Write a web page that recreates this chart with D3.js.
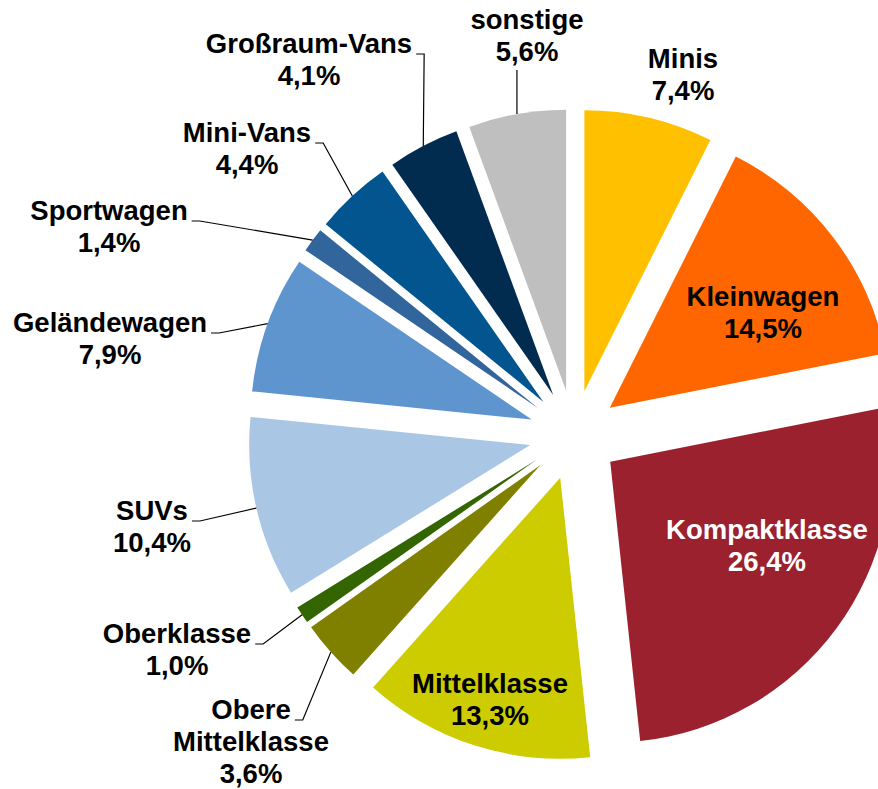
<!DOCTYPE html>
<html>
<head>
<meta charset="utf-8">
<script src="https://cdn.jsdelivr.net/npm/d3@7"></script>
<style>
  body { margin: 0; background: #fff; }
</style>
</head>
<body>
<script>
let w = 878;
let h = 789;

// data
let categories = ["Minis", "Kleinwagen", "Kompaktklasse", "Mittelklasse", "Obere Mittelklasse",
    "Oberklasse", "SUVs", "Geländewagen", "Sportwagen", "Mini-Vans", "Großraum-Vans", "sonstige"];
let shares = [7.4, 14.5, 26.4, 13.3, 3.6, 1.0, 10.4, 7.9, 1.4, 4.4, 4.1, 5.6];

// styles / layout
let colors = ["#FFC000", "#FF6600", "#9A212D", "#CCCC00", "#808000", "#336600",
    "#A9C6E5", "#5E95CF", "#31659C", "#02558F", "#012C4F", "#BFBFBF"];
let textColors = ["#000", "#000", "#fff", "#000", "#000", "#000", "#000", "#000", "#000", "#000", "#000", "#000"];
let labelX = [683, 763, 767, 490, 251, 177, 152, 110, 109, 247, 309, 527];
let labelY = [68, 306, 539, 693, 719, 643, 520, 332, 220, 142, 53, 29];
let leaderType = ["none", "none", "none", "none", "side", "side", "side", "side", "side", "side", "side", "below"];

let cx = 574, cy = 435;
let radius = 281;
let explode = 45;
let lineH = 32;

let de = d3.formatLocale({decimal: ",", thousands: ".", grouping: [3], currency: ["", "€"]});
let pct = de.format(".1f");

let dataset = categories.map((c, i) => ({key: c, value: shares[i], i: i}));

let pie = d3.pie()
    .sort(null)
    .value(d => d.value);

let arc = d3.arc()
    .innerRadius(0)
    .outerRadius(radius);

let arcs = pie(dataset);

// offset of each exploded slice along its mid angle
let off = function (d) {
    let a = (d.startAngle + d.endAngle) / 2;
    return [explode * Math.sin(a), -explode * Math.cos(a)];
}

let svg = d3.select("body")
    .append("svg")
    .attr("width", w)
    .attr("height", h)

let g = svg.append("g")
    .attr("transform", `translate(${cx},${cy})`)

g.selectAll("path")
    .data(arcs)
    .enter()
    .append("path")
    .attr("d", arc)
    .attr("transform", d => `translate(${off(d)[0]},${off(d)[1]})`)
    .attr("fill", d => colors[d.data.i])

// label lines
let lines = function (d) {
    let name = d.data.key;
    let parts = name === "Obere Mittelklasse" ? name.split(" ") : [name];
    return parts.concat([pct(d.data.value) + "%"]);
}

let labels = svg.selectAll("text.lbl")
    .data(arcs)
    .enter()
    .append("text")
    .attr("class", "lbl")
    .attr("x", d => labelX[d.data.i])
    .attr("y", d => labelY[d.data.i])
    .attr("fill", d => textColors[d.data.i])
    .attr("font-family", "'Liberation Sans', Arial, sans-serif")
    .attr("font-weight", "bold")
    .attr("font-size", "27.5px")
    .attr("text-anchor", "middle")

labels.each(function (d) {
    let t = d3.select(this);
    lines(d).forEach((s, k) => {
        t.append("tspan")
            .attr("x", labelX[d.data.i])
            .attr("y", labelY[d.data.i] + k * lineH)
            .text(s)
    })
})

// leader lines to the middle of each slice's outer arc
let outerPoint = function (d) {
    let a = (d.startAngle + d.endAngle) / 2;
    let o = off(d);
    return [cx + o[0] + radius * Math.sin(a), cy + o[1] - radius * Math.cos(a)];
}

labels.each(function (d) {
    let type = leaderType[d.data.i];
    if (type === "none") return;
    let p = outerPoint(d);
    let pts;
    if (type === "below") {
        let y0 = labelY[d.data.i] + (lines(d).length - 1) * lineH + 9;
        pts = [[p[0], y0], p];
    } else {
        let first = d3.select(this).select("tspan").node();
        let len = first.getComputedTextLength();
        let x0 = labelX[d.data.i] + len / 2 + 4;
        let y0 = labelY[d.data.i] + 1;
        pts = [[x0, y0], [x0 + 8, y0], p];
    }
    svg.append("path")
        .attr("d", d3.line()(pts))
        .attr("fill", "none")
        .attr("stroke", "#000")
        .attr("stroke-width", 1.2)
})
</script>
</body>
</html>
